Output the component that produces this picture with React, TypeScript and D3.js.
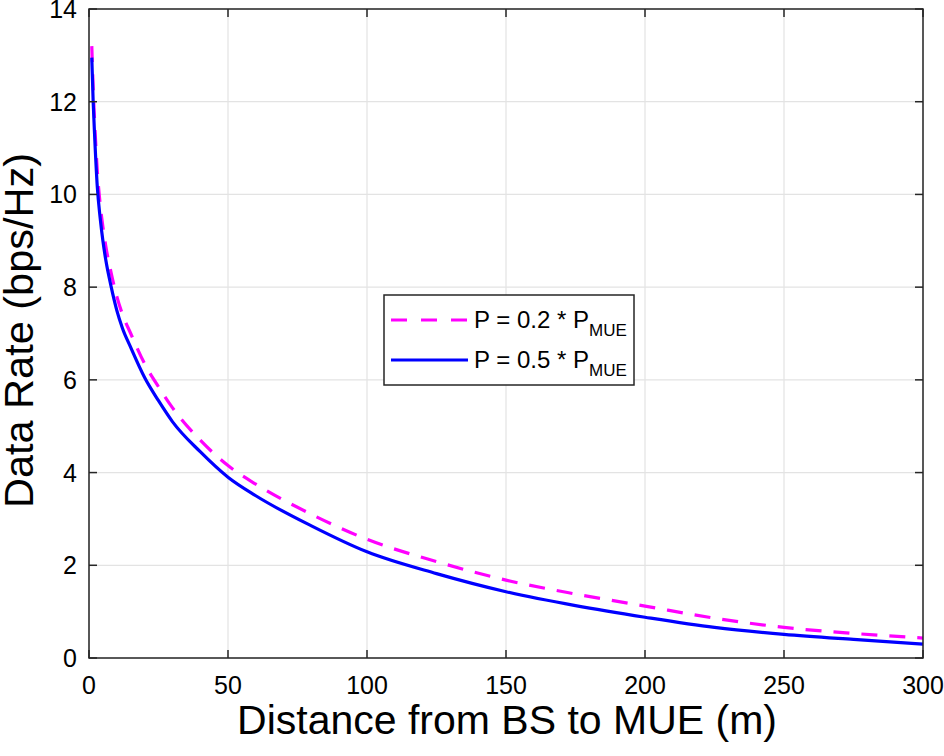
import React from "react";
import * as d3 from "d3";

const distances = [1, 1.5, 2, 3, 4, 5, 6, 8, 10, 12, 15, 20, 25, 30, 40, 50, 60, 80, 100, 125, 150, 175, 200, 225, 250, 275, 300];
const rateP02 = [13.2, 12.3, 11.6, 10.5, 9.8, 9.3, 8.9, 8.3, 7.8, 7.42, 7.0, 6.35, 5.85, 5.4, 4.7, 4.15, 3.75, 3.1, 2.56, 2.08, 1.68, 1.38, 1.12, 0.86, 0.66, 0.53, 0.43];
const rateP05 = [12.95, 12.0, 11.3, 10.15, 9.5, 9.0, 8.6, 8.0, 7.5, 7.12, 6.7, 6.05, 5.55, 5.1, 4.45, 3.9, 3.5, 2.85, 2.29, 1.82, 1.43, 1.13, 0.88, 0.66, 0.51, 0.4, 0.3];
const xTicks = [0, 50, 100, 150, 200, 250, 300];
const yTicks = [0, 2, 4, 6, 8, 10, 12, 14];
const seriesNames = ["P = 0.2 * P", "P = 0.5 * P"];
const subscript = "MUE";

const W = 944, H = 756;
const L = 89, R = 923, T = 9, B = 658;
const FONT = "'Liberation Sans', Arial, Helvetica, sans-serif";

export default function App() {
  const x = d3.scaleLinear().domain([0, 300]).range([L, R]);
  const y = d3.scaleLinear().domain([0, 14]).range([B, T]);
  const line = d3
    .line<number>()
    .x((_, i) => x(distances[i]))
    .y((v) => y(v))
    .curve(d3.curveMonotoneX);
  const axisColor = "#262626";
  const gridColor = "#e3e3e3";
  const tick = 8;

  return (
    <svg width={W} height={H} style={{ position: "absolute", left: 0, top: 0, background: "#fff" }} fontFamily={FONT}>
      <rect x={0} y={0} width={W} height={H} fill="#fff" />
      {xTicks.map((t) => (
        <line key={"gx" + t} x1={x(t)} x2={x(t)} y1={T} y2={B} stroke={gridColor} strokeWidth={1.2} />
      ))}
      {yTicks.map((t) => (
        <line key={"gy" + t} x1={L} x2={R} y1={y(t)} y2={y(t)} stroke={gridColor} strokeWidth={1.2} />
      ))}
      <path d={line(rateP02) || ""} fill="none" stroke="#ff00ff" strokeWidth={3.2} strokeDasharray="16,12" />
      <path d={line(rateP05) || ""} fill="none" stroke="#0000ff" strokeWidth={3.2} />
      <rect x={L} y={T} width={R - L} height={B - T} fill="none" stroke={axisColor} strokeWidth={1.5} />
      {xTicks.map((t) => (
        <g key={"tx" + t}>
          <line x1={x(t)} x2={x(t)} y1={B} y2={B - tick} stroke={axisColor} strokeWidth={1.5} />
          <line x1={x(t)} x2={x(t)} y1={T} y2={T + tick} stroke={axisColor} strokeWidth={1.5} />
          <text x={x(t)} y={B + 36} fontSize={25} textAnchor="middle" fill="#000">
            {t}
          </text>
        </g>
      ))}
      {yTicks.map((t) => (
        <g key={"ty" + t}>
          <line x1={L} x2={L + tick} y1={y(t)} y2={y(t)} stroke={axisColor} strokeWidth={1.5} />
          <line x1={R} x2={R - tick} y1={y(t)} y2={y(t)} stroke={axisColor} strokeWidth={1.5} />
          <text x={L - 12} y={y(t) + 9} fontSize={25} textAnchor="end" fill="#000">
            {t}
          </text>
        </g>
      ))}
      <text x={(L + R) / 2 + 1} y={734} fontSize={41} textAnchor="middle" fill="#000">
        Distance from BS to MUE (m)
      </text>
      <text transform={`translate(33, ${(T + B) / 2 - 3}) rotate(-90)`} fontSize={41.5} textAnchor="middle" fill="#000">
        Data Rate (bps/Hz)
      </text>
      <g>
        <rect x={384} y={295} width={250} height={90} fill="#fff" stroke={axisColor} strokeWidth={1.5} />
        <line x1={391} x2={468} y1={320} y2={320} stroke="#ff00ff" strokeWidth={3.2} strokeDasharray="16,14" />
        <line x1={391} x2={468} y1={360} y2={360} stroke="#0000ff" strokeWidth={3.2} />
        {seriesNames.map((s, i) => (
          <text key={s} x={474} y={328 + i * 40} fontSize={24} fill="#000">
            {s}
            <tspan dy={8} fontSize={17}>
              {subscript}
            </tspan>
          </text>
        ))}
      </g>
    </svg>
  );
}
